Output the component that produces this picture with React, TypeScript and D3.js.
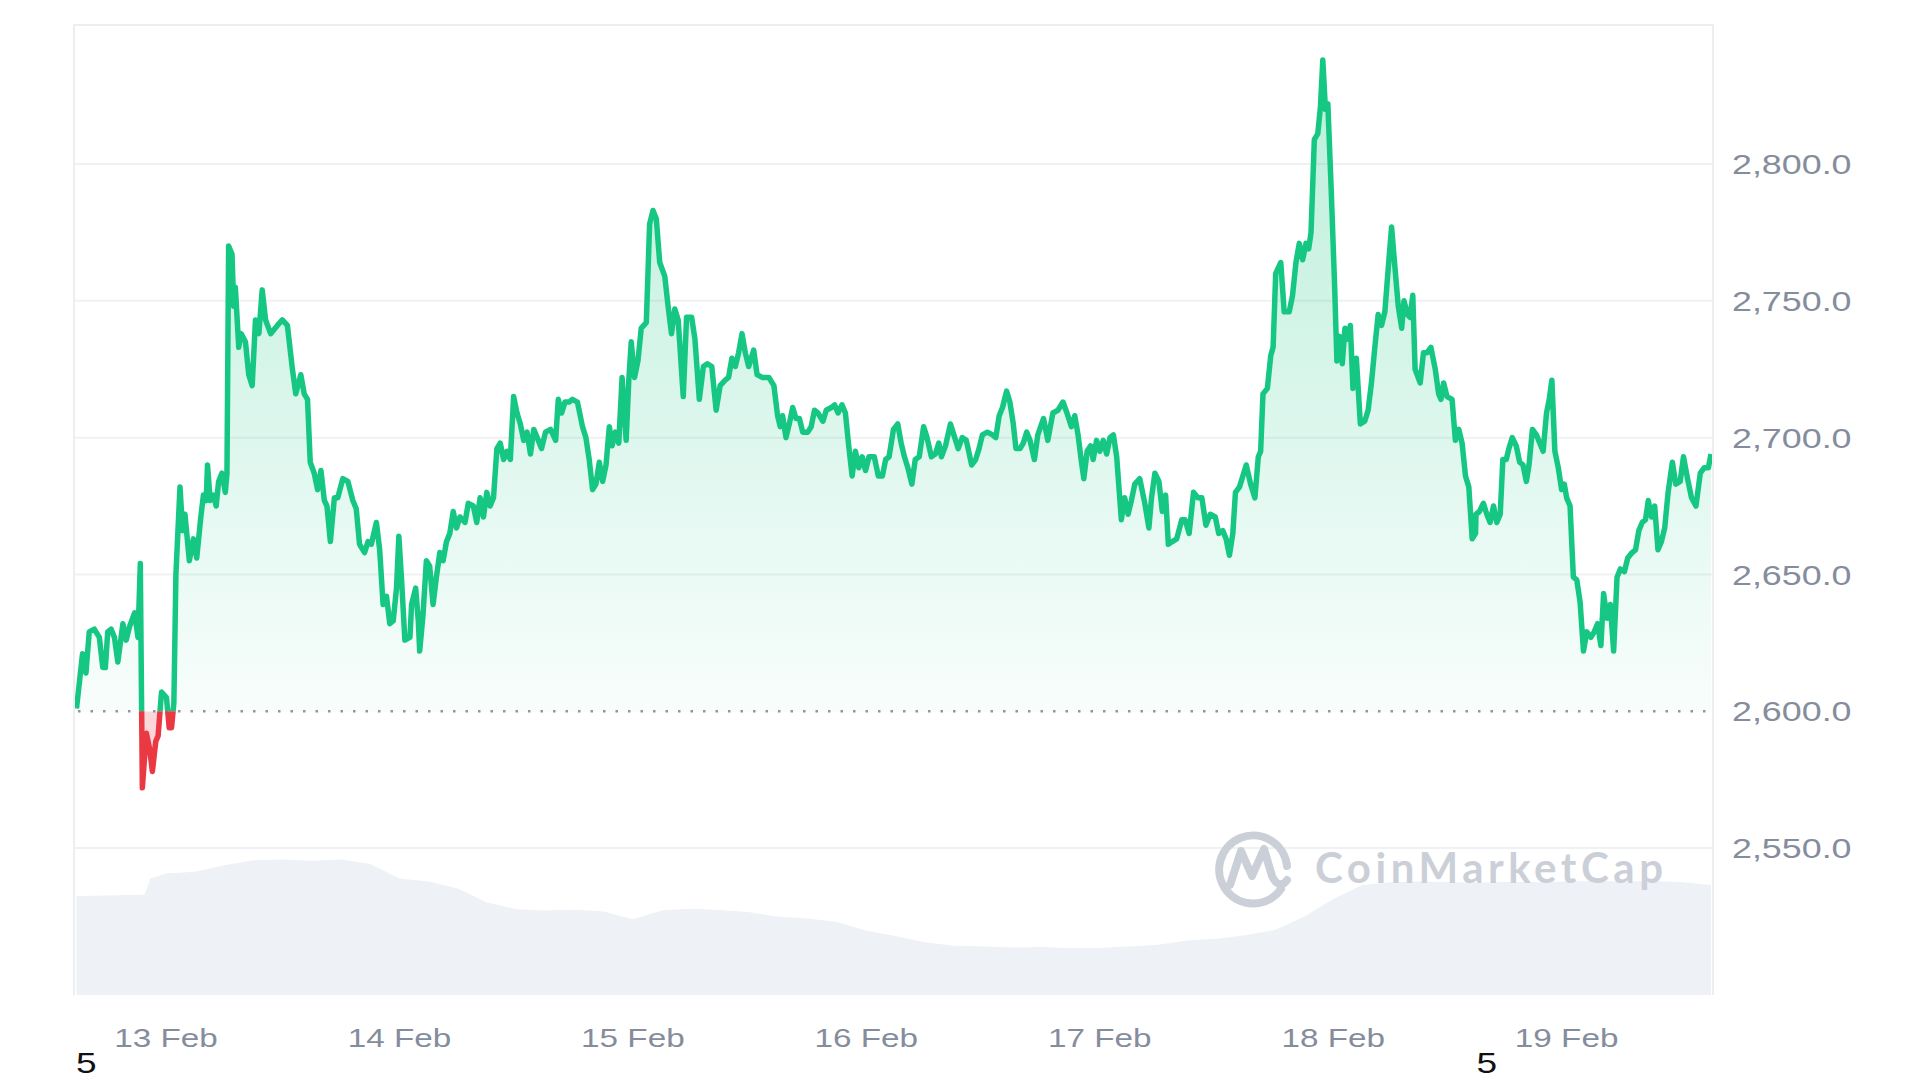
import React, { useEffect, useRef } from "react";
import * as d3 from "d3";

// hours since 13 Feb 00:00, price in USD
const priceHours = [
  -9.2, -8.58, -8.23, -7.89, -7.37, -6.85, -6.5, -6.23, -5.99, -5.64, -5.3, -4.95, -4.43, -4.09, -3.74, -3.22,
  -2.88, -2.64, -2.43, -2.02, -1.67, -1.4, -1.05, -0.81, -0.46, 0.05, 0.33, 0.57, 0.81, 1.02, 1.44, 1.71,
  1.95, 2.4, 2.82, 3.16, 3.58, 3.85, 4.13, 4.27, 4.54, 4.89, 5.16, 5.41, 5.75, 6.1, 6.27, 6.44,
  6.79, 6.96, 7.13, 7.48, 7.72, 8.17, 8.51, 8.86, 9.2, 9.55, 9.89, 10.24, 10.76, 11.45, 11.96, 12.48,
  13.0, 13.34, 13.86, 14.21, 14.55, 14.83, 15.24, 15.59, 15.93, 16.28, 16.55, 16.9, 17.31, 17.66, 18.18, 18.7,
  19.21, 19.56, 19.9, 20.42, 20.77, 21.11, 21.63, 21.97, 22.32, 22.67, 23.01, 23.36, 23.7, 23.94, 24.22, 24.56,
  25.08, 25.25, 25.67, 25.94,
  26.08, 26.42, 26.77, 27.11, 27.46, 27.8, 28.15, 28.49, 28.84, 29.18, 29.53, 29.87, 30.22, 30.74, 31.08, 31.6,
  31.95, 32.29, 32.64, 32.98, 33.33, 33.67, 34.02, 34.36, 34.71, 35.05, 35.4, 35.74, 36.09, 36.43, 36.78, 37.12,
  37.47, 37.81, 38.16, 38.61, 39.02, 39.54, 40.06, 40.33, 40.68, 41.02, 41.44, 41.78, 42.3, 42.82, 43.17, 43.51,
  43.86, 44.2, 44.55, 44.89, 45.24, 45.58, 45.86, 46.2, 46.55, 46.89, 47.31, 47.58, 47.83, 48.17, 48.52, 48.86,
  49.38, 49.72, 50.07, 50.41, 50.76, 51.28, 51.62, 51.97, 52.31, 52.66, 53.18, 53.52, 54.04, 54.38, 54.83, 55.25,
  55.66, 56.11, 56.56, 56.97, 57.49, 57.84, 58.18, 58.53, 58.87, 59.22, 59.56, 59.91, 60.42, 60.77, 61.29, 61.98,
  62.5,
  62.88, 63.15, 63.39, 63.74, 64.08, 64.43, 64.77, 65.12, 65.46, 65.98, 66.33, 66.67, 67.02, 67.54, 67.88, 68.4,
  68.74, 69.09, 69.5, 69.85, 70.19, 70.54, 70.88, 71.23, 71.57, 71.92, 72.27, 72.82, 73.23, 73.65, 73.99, 74.34,
  74.79, 75.23, 75.58, 75.92, 76.27, 76.68, 77.03, 77.44, 77.89, 78.24, 78.69, 79.1, 79.45, 79.72, 80.14, 80.65,
  81.0, 81.45, 81.86, 82.28, 82.83, 83.24, 83.59, 83.93, 84.45, 84.97, 85.31, 85.66, 86.0, 86.42, 86.76, 87.11,
  87.38, 87.8, 88.14, 88.49, 88.83, 89.28, 89.63, 90.22, 90.66, 91.18, 91.7, 92.22, 92.63, 93.08, 93.43, 93.77,
  94.12, 94.36, 94.7, 95.05, 95.32, 95.67, 96.01, 96.36, 96.71, 97.05, 97.4, 97.74,
  98.22, 98.56, 98.91, 99.25, 99.6, 100.11, 100.63, 101.05, 101.32, 101.67, 102.08, 102.43, 102.77, 103.05, 103.46, 103.91,
  104.43, 104.77, 105.19, 105.64, 106.09, 106.5, 106.91, 107.36, 107.88, 108.23, 108.64, 108.99, 109.33, 109.68, 109.95, 110.37,
  110.71, 111.06, 111.51, 111.95, 112.3, 112.54, 112.78, 113.23, 113.58, 113.82, 114.09, 114.61, 114.96, 115.48, 115.82, 116.17,
  116.51, 116.86, 117.2, 117.48, 117.72, 118.06, 118.41, 118.69, 118.93, 119.2, 119.45, 119.79, 120.14, 120.38, 120.65, 120.93,
  121.21, 121.48, 121.76, 122.03, 122.38, 122.79, 123.24, 123.59, 123.93, 124.28, 124.62, 124.97, 125.31, 125.66, 126.0, 126.35,
  126.69, 127.04, 127.28, 127.63, 127.9, 128.18, 128.42, 128.94, 129.28, 129.63, 130.04, 130.49, 130.84, 131.08, 131.35, 131.7,
  132.22, 132.56, 132.91, 133.25, 133.6, 133.94, 134.29, 134.63,
  134.68, 135.03, 135.44, 135.79, 136.13, 136.48, 136.82, 137.17, 137.44, 137.79, 138.06, 138.41, 138.82, 139.17, 139.51, 139.86,
  140.13, 140.48, 140.89, 141.24, 141.58, 141.93, 142.21, 142.48, 142.79, 143.14, 143.48, 143.76, 144.0, 144.35, 144.69, 145.04,
  145.38, 145.73, 146.07, 146.49, 146.83, 147.18, 147.52, 147.8, 148.14, 148.49, 148.83, 149.18, 149.52, 149.94, 150.28, 150.73,
  151.08, 151.42, 151.77, 152.11, 152.39, 152.73, 153.05, 153.39, 153.74, 154.08, 154.43, 154.87, 155.22, 155.67, 156.01, 156.43,
  156.84, 157.29, 157.74, 158.15, 158.57, 158.84,
];

const priceValues = [
  2601, 2621, 2614, 2629, 2630, 2627, 2616, 2616, 2629, 2630, 2627, 2618, 2632, 2626, 2631, 2636,
  2627, 2654, 2572, 2592, 2586, 2578, 2589, 2591, 2607, 2605, 2594, 2594, 2603, 2650, 2682, 2666,
  2672, 2655, 2663, 2656, 2671, 2679, 2677, 2690, 2677, 2679, 2675, 2684, 2687, 2680, 2687, 2770,
  2767, 2748, 2755, 2733, 2738, 2735, 2723, 2719, 2743, 2738, 2754, 2743, 2738, 2741, 2743, 2741,
  2725, 2716, 2723, 2716, 2714, 2691, 2687, 2681, 2688, 2677, 2675, 2662, 2678, 2678, 2685, 2684,
  2677, 2674, 2661, 2658, 2662, 2661, 2669, 2659, 2639, 2642, 2632, 2633, 2645, 2664, 2648, 2626,
  2627, 2639, 2645, 2633,
  2622, 2635, 2655, 2653, 2639, 2649, 2658, 2655, 2662, 2665, 2673, 2667, 2671, 2669, 2676, 2675,
  2669, 2678, 2671, 2680, 2675, 2678, 2696, 2698, 2692, 2695, 2692, 2715, 2709, 2705, 2699, 2702,
  2694, 2703, 2700, 2696, 2702, 2703, 2699, 2714, 2709, 2713, 2713, 2714, 2713, 2704, 2700, 2692,
  2681, 2683, 2691, 2684, 2690, 2704, 2697, 2702, 2698, 2722, 2699, 2721, 2735, 2722, 2728, 2740,
  2742, 2778, 2783, 2780, 2764, 2759, 2748, 2738, 2747, 2743, 2715, 2744, 2744, 2736, 2714, 2726,
  2727, 2726, 2710, 2719, 2721, 2722, 2729, 2726, 2731, 2738, 2731, 2726, 2732, 2723, 2722, 2722,
  2719,
  2708, 2704, 2708, 2700, 2705, 2711, 2707, 2707, 2702, 2702, 2704, 2710, 2709, 2706, 2710, 2711,
  2712, 2709, 2712, 2709, 2697, 2686, 2695, 2689, 2693, 2688, 2693, 2693, 2686, 2686, 2692, 2693,
  2703, 2705, 2698, 2693, 2689, 2683, 2692, 2693, 2704, 2700, 2693, 2694, 2698, 2693, 2697, 2705,
  2701, 2696, 2700, 2699, 2690, 2692, 2696, 2701, 2702, 2701, 2700, 2708, 2711, 2717, 2713, 2705,
  2696, 2696, 2698, 2702, 2699, 2692, 2701, 2707, 2699, 2709, 2710, 2713, 2709, 2704, 2708, 2701,
  2691, 2685, 2695, 2697, 2692, 2699, 2695, 2699, 2694, 2700, 2701, 2693,
  2670, 2678, 2672, 2677, 2683, 2685, 2676, 2667, 2678, 2687, 2684, 2673, 2679, 2661, 2662, 2663,
  2670, 2670, 2665, 2680, 2678, 2678, 2668, 2672, 2671, 2665, 2666, 2663, 2657, 2665, 2680, 2682,
  2686, 2690, 2683, 2678, 2693, 2695, 2716, 2718, 2730, 2733, 2760, 2764, 2746, 2746, 2752, 2764,
  2771, 2765, 2771, 2769, 2775, 2809, 2811, 2821, 2838, 2820, 2822, 2791, 2756, 2728, 2737, 2727,
  2740, 2736, 2741, 2718, 2729, 2705, 2706, 2710, 2720, 2733, 2745, 2741, 2746, 2762, 2777, 2762,
  2748, 2740, 2750, 2745, 2744, 2752, 2725, 2720, 2731, 2731, 2733, 2725, 2716, 2714, 2720, 2715,
  2714, 2699, 2703, 2698, 2686, 2682, 2663, 2665,
  2672, 2673, 2676, 2672, 2669, 2675, 2669, 2672, 2692, 2692, 2696, 2700, 2697, 2691, 2690, 2684,
  2690, 2703, 2701, 2698, 2695, 2709, 2714, 2721, 2695, 2689, 2681, 2683, 2678, 2675, 2649, 2648,
  2640, 2622, 2629, 2627, 2629, 2632, 2624, 2643, 2634, 2639, 2622, 2649, 2652, 2651, 2656, 2658,
  2659, 2666, 2669, 2670, 2677, 2671, 2675, 2659, 2662, 2667, 2680, 2691, 2683, 2684, 2693, 2685,
  2678, 2675, 2687, 2689, 2689, 2694,
];

// 24h volume, USD billions
const volumeHours = [
  -9.2, -6, -3, -2.2, -1.6, 0, 3, 6, 9, 12, 15, 18, 21, 24, 27, 30, 33, 36, 39, 42, 45, 48, 51, 54, 57,
  60, 63, 66, 69, 72, 75, 78, 81, 84, 87, 90, 93, 96, 99, 102, 105, 108, 111, 114, 117, 120, 123, 126,
  129, 132, 135, 138, 141, 144, 147, 150, 153, 156, 158.84,
];
const volumeValues = [
  22.5, 22.6, 22.8, 22.8, 26.5, 27.6, 28.0, 29.5, 30.6, 30.8, 30.5, 30.8, 29.8, 26.5, 25.8, 24.2, 21.0,
  19.5, 19.2, 19.4, 19.0, 17.2, 19.2, 19.6, 19.3, 18.8, 17.8, 17.4, 16.6, 14.6, 13.4, 12.0, 11.2, 11.0,
  10.8, 10.9, 10.6, 10.7, 11.0, 11.4, 12.4, 12.8, 13.6, 14.8, 17.8, 21.8, 25.0, 25.6, 25.8, 25.6, 25.5,
  25.7, 25.6, 25.8, 25.9, 25.8, 25.9, 25.6, 25.0,
];

const priceTicks = [2550, 2600, 2650, 2700, 2750, 2800];
const dayTicks = [0, 24, 48, 72, 96, 120, 144];
const dayLabels = ["13 Feb", "14 Feb", "15 Feb", "16 Feb", "17 Feb", "18 Feb", "19 Feb"];
const openPrice = 2600;
const strayHours = [-8.2, 135.8];
const strayTexts = ["5", "5"];

const GREEN = "#16c784";
const RED = "#ea3943";
const AXIS = "#858d9c";
const WIDE = 1.28; // the screenshot is stretched sideways

const App: React.FC = () => {
  const svgRef = useRef<SVGSVGElement>(null);

  useEffect(() => {
    const svg = d3.select(svgRef.current);
    svg.selectAll("*").remove();

    const frame = { left: 74, right: 1713, top: 25, bottom: 995 };

    const x = d3
      .scaleLinear()
      .domain([priceHours[0], priceHours[priceHours.length - 1]])
      .range([frame.left + 2.5, frame.right - 2]);
    const y = d3.scaleLinear().domain([2496.3, 2850.8]).range([frame.bottom, frame.top]);
    const yVol = d3.scaleLinear().domain([0, 40]).range([frame.bottom, frame.bottom - 176]);

    const points = priceHours.map((h, i) => ({ h, v: priceValues[i] }));
    const vols = volumeHours.map((h, i) => ({ h, v: volumeValues[i] }));
    const base = y(openPrice);

    const defs = svg.append("defs");
    const gGreen = defs
      .append("linearGradient")
      .attr("id", "fillGreen")
      .attr("gradientUnits", "userSpaceOnUse")
      .attr("x1", 0)
      .attr("x2", 0)
      .attr("y1", y(2840))
      .attr("y2", base);
    gGreen.append("stop").attr("offset", 0).attr("stop-color", GREEN).attr("stop-opacity", 0.3);
    gGreen.append("stop").attr("offset", 1).attr("stop-color", GREEN).attr("stop-opacity", 0.03);

    defs
      .append("clipPath")
      .attr("id", "clipAbove")
      .append("rect")
      .attr("x", 0)
      .attr("y", 0)
      .attr("width", 1920)
      .attr("height", base);
    defs
      .append("clipPath")
      .attr("id", "clipBelow")
      .append("rect")
      .attr("x", 0)
      .attr("y", base)
      .attr("width", 1920)
      .attr("height", 1080 - base);

    // grid
    svg
      .append("g")
      .selectAll("line")
      .data(priceTicks.filter((t) => t !== openPrice))
      .join("line")
      .attr("x1", frame.left)
      .attr("x2", frame.right)
      .attr("y1", (d) => y(d))
      .attr("y2", (d) => y(d))
      .attr("stroke", "#eff1f4")
      .attr("stroke-width", 2);

    // volume
    const volArea = d3
      .area<{ h: number; v: number }>()
      .x((d) => x(d.h))
      .y0(frame.bottom)
      .y1((d) => yVol(d.v));
    svg
      .append("path")
      .datum(vols)
      .attr("d", volArea)
      .attr("fill", "#eef1f5");

    // watermark
    const wm = svg.append("g");
    wm.append("path")
      .attr(
        "d",
        "M1281,889 A34,34 0 1 1 1287,866 M1230,885 L1241,851 L1252,876 L1264,849 L1272,876 C1276,885 1282,887 1287,880"
      )
      .attr("fill", "none")
      .attr("stroke", "#cbd0d8")
      .attr("stroke-width", 8)
      .attr("stroke-linecap", "round")
      .attr("stroke-linejoin", "round");
    wm.append("text")
      .attr("x", 1315)
      .attr("y", 883)
      .attr("font-family", "Lato, sans-serif")
      .attr("font-weight", 700)
      .attr("font-size", 42)
      .attr("textLength", 348)
      .attr("fill", "#cbd0d8")
      .text("CoinMarketCap");

    // price fill
    const area = d3
      .area<{ h: number; v: number }>()
      .x((d) => x(d.h))
      .y0(base)
      .y1((d) => y(d.v));
    svg
      .append("path")
      .datum(points)
      .attr("d", area)
      .attr("fill", "url(#fillGreen)")
      .attr("clip-path", "url(#clipAbove)");
    svg
      .append("path")
      .datum(points)
      .attr("d", area)
      .attr("fill", RED)
      .attr("fill-opacity", 0.2)
      .attr("clip-path", "url(#clipBelow)");

    // open-price baseline
    svg
      .append("line")
      .attr("x1", frame.left + 4)
      .attr("x2", frame.right - 4)
      .attr("y1", base)
      .attr("y2", base)
      .attr("stroke", "#8f959e")
      .attr("stroke-width", 2.5)
      .attr("stroke-dasharray", "2.5 10");

    // price line
    const line = d3
      .line<{ h: number; v: number }>()
      .x((d) => x(d.h))
      .y((d) => y(d.v));
    [
      { clip: "url(#clipAbove)", color: GREEN },
      { clip: "url(#clipBelow)", color: RED },
    ].forEach((s) => {
      svg
        .append("path")
        .datum(points)
        .attr("d", line)
        .attr("fill", "none")
        .attr("stroke", s.color)
        .attr("stroke-width", 5.5)
        .attr("stroke-linejoin", "round")
        .attr("clip-path", s.clip);
    });

    // frame
    svg
      .append("path")
      .attr("d", `M${frame.left},${frame.bottom} V${frame.top} H${frame.right} V${frame.bottom}`)
      .attr("fill", "none")
      .attr("stroke", "#eceef2")
      .attr("stroke-width", 2);

    const font = "'Liberation Sans', Arial, sans-serif";

    // y labels
    svg
      .append("g")
      .selectAll("text")
      .data(priceTicks)
      .join("text")
      .attr("transform", (d) => `translate(${frame.right + 19},${y(d)}) scale(${WIDE},1)`)
      .attr("dy", "0.36em")
      .attr("font-family", font)
      .attr("font-size", 28)
      .attr("fill", AXIS)
      .text((d) => d3.format(",.1f")(d));

    // x labels
    svg
      .append("g")
      .selectAll("text")
      .data(dayTicks)
      .join("text")
      .attr("transform", (d) => `translate(${x(d)},1047) scale(${WIDE},1)`)
      .attr("text-anchor", "middle")
      .attr("font-family", font)
      .attr("font-size", 26)
      .attr("fill", AXIS)
      .text((d, i) => dayLabels[i]);

    svg
      .append("g")
      .selectAll("text")
      .data(strayHours)
      .join("text")
      .attr("transform", (d) => `translate(${x(d)},1073) scale(${WIDE},1)`)
      .attr("text-anchor", "middle")
      .attr("font-family", font)
      .attr("font-size", 29)
      .attr("fill", "#111")
      .text((d, i) => strayTexts[i]);
  }, []);

  return (
    <div style={{ position: "absolute", left: 0, top: 0, width: 1920, height: 1080, background: "#fff" }}>
      <svg ref={svgRef} width={1920} height={1080} style={{ display: "block" }} />
    </div>
  );
};

export default App;
